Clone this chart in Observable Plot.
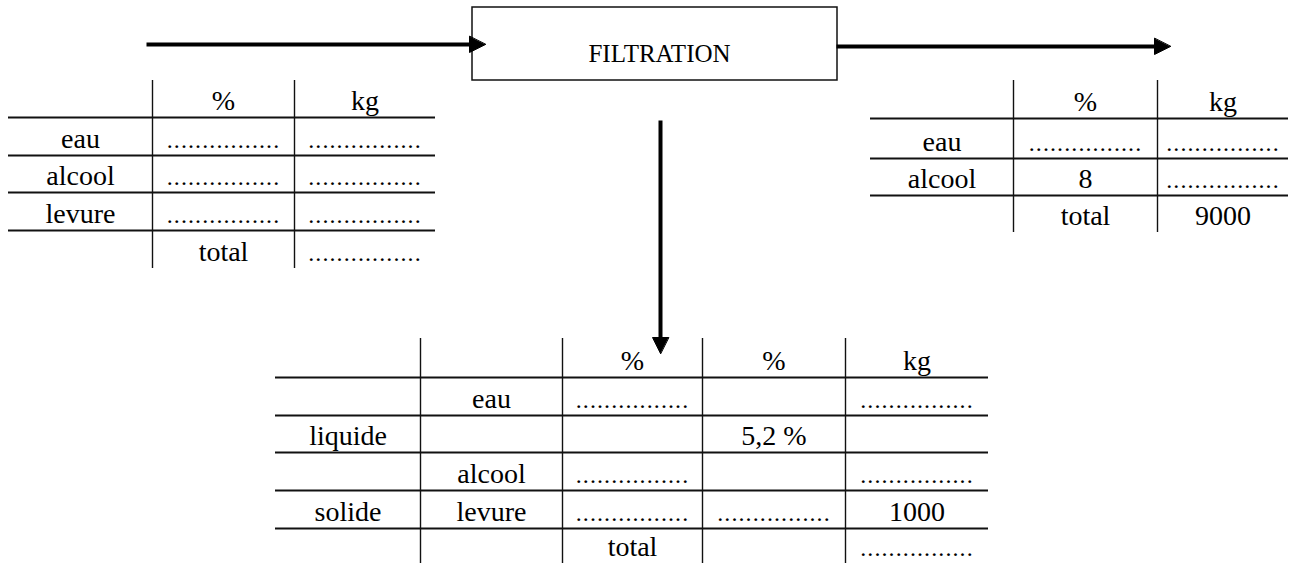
<!DOCTYPE html>
<html>
<head>
<meta charset="utf-8">
<script src="https://cdn.jsdelivr.net/npm/d3@7"></script>
<script src="https://cdn.jsdelivr.net/npm/@observablehq/plot@0.6"></script>
<style>
  html, body { margin: 0; padding: 0; background: #fff; }
</style>
</head>
<body>
<div id="chart"></div>
<script>
// ---------- content (data) ----------
const DOTS = "................";
const processLabel = "FILTRATION";

// feed (entrée)
const inletTable = [
  ["", "%", "kg"],
  ["eau", DOTS, DOTS],
  ["alcool", DOTS, DOTS],
  ["levure", DOTS, DOTS],
  ["", "total", DOTS]
];
// filtrate (sortie liquide)
const filtrateTable = [
  ["", "%", "kg"],
  ["eau", DOTS, DOTS],
  ["alcool", "8", DOTS],
  ["", "total", "9000"]
];
// cake (sortie solide)
const cakeTable = [
  ["", "", "%", "%", "kg"],
  ["", "eau", DOTS, "", DOTS],
  ["liquide", "", "", "5,2 %", ""],
  ["", "alcool", DOTS, "", DOTS],
  ["solide", "levure", DOTS, DOTS, "1000"],
  ["", "", "total", "", DOTS]
];

// ---------- layout (diagram frame, px) ----------
const W = 1302, H = 563;
const tableLayout = [
  {grid: inletTable,    cols: [8, 152, 294, 435],             rows: [80, 117, 155, 192, 230, 268]},
  {grid: filtrateTable, cols: [870, 1013, 1157, 1288],        rows: [80, 118, 158, 195, 232]},
  {grid: cakeTable,     cols: [275, 420, 562, 702, 845, 988], rows: [338, 377, 415, 452, 490, 528, 563]}
];
const boxLayout = {x1: 472, x2: 837, y1: 7, y2: 80, labelX: 659, labelY: 61};
const arrowLayout = [
  {x1: 146, y1: 44, x2: 485, y2: 44},
  {x1: 836, y1: 46, x2: 1170, y2: 46},
  {x1: 660, y1: 120, x2: 660, y2: 353}
];
const HEAD_LEN = 16, HEAD_HALF = 8;

// ---------- derived records ----------
const hLines = [], vLines = [], cells = [];
for (const t of tableLayout) {
  const {grid, cols, rows} = t;
  for (let i = 1; i < rows.length - 1; i++)
    hLines.push({y: rows[i], x1: cols[0], x2: cols[cols.length - 1]});
  for (let j = 1; j < cols.length - 1; j++)
    vLines.push({x: cols[j], y1: rows[0], y2: rows[rows.length - 1]});
  grid.forEach((row, i) => row.forEach((txt, j) => {
    if (txt === "") return;
    cells.push({
      x: (cols[j] + cols[j + 1]) / 2,
      y: rows[i + 1] - 8,
      text: txt,
      dots: txt === DOTS
    });
  }));
}

const shafts = [], heads = [];
arrowLayout.forEach((a, k) => {
  const dx = a.x2 - a.x1, dy = a.y2 - a.y1, L = Math.hypot(dx, dy);
  const ux = dx / L, uy = dy / L, px = -uy, py = ux;
  const bx = a.x2 - ux * HEAD_LEN, by = a.y2 - uy * HEAD_LEN;
  shafts.push({x1: a.x1, y1: a.y1, x2: bx + ux * 2, y2: by + uy * 2});
  heads.push({k, x: a.x2, y: a.y2});
  heads.push({k, x: bx + px * HEAD_HALF, y: by + py * HEAD_HALF});
  heads.push({k, x: bx - px * HEAD_HALF, y: by - py * HEAD_HALF});
});

const font = "Liberation Serif";

const chart = Plot.plot({
  width: W,
  height: H,
  margin: 0,
  x: {domain: [0, W], range: [0, W], axis: null},
  y: {domain: [0, H], range: [0, H], axis: null},
  style: {background: "#fff", fontFamily: font},
  marks: [
    Plot.ruleY(hLines, {y: "y", x1: "x1", x2: "x2", stroke: "#111", strokeWidth: 1.8}),
    Plot.ruleX(vLines, {x: "x", y1: "y1", y2: "y2", stroke: "#111", strokeWidth: 1.4}),
    Plot.rect([boxLayout], {x1: "x1", x2: "x2", y1: "y1", y2: "y2", fill: "#fff", stroke: "#111", strokeWidth: 1.5}),
    Plot.link(shafts, {x1: "x1", y1: "y1", x2: "x2", y2: "y2", stroke: "#000", strokeWidth: 4}),
    Plot.line(heads, {x: "x", y: "y", z: "k", curve: "linear-closed", fill: "#000", stroke: "#000", strokeWidth: 1}),
    Plot.text([boxLayout], {x: "labelX", y: "labelY", text: () => processLabel, fontSize: 25, fontFamily: font, fill: "#000", lineAnchor: "bottom", textAnchor: "middle"}),
    Plot.text(cells.filter(d => !d.dots), {x: "x", y: "y", text: "text", fontSize: 28, fontFamily: font, fill: "#000", lineAnchor: "bottom", textAnchor: "middle"}),
    Plot.text(cells.filter(d => d.dots), {x: "x", y: "y", text: "text", fontSize: 24, fontFamily: font, fill: "#000", lineAnchor: "bottom", textAnchor: "middle"})
  ]
});
chart.querySelectorAll("text").forEach(t => {
  if (t.textContent === DOTS) t.setAttribute("letter-spacing", "1.1");
});
document.getElementById("chart").appendChild(chart);
</script>
</body>
</html>
